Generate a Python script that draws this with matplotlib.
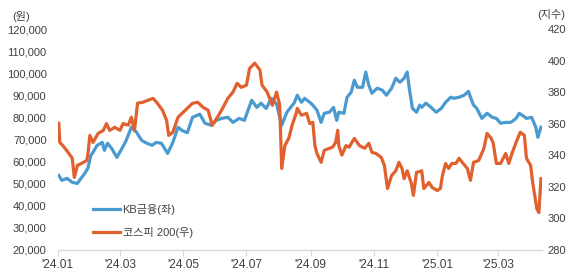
import pandas as pd
import matplotlib
matplotlib.use('Agg')
import matplotlib.pyplot as plt
import matplotlib.dates as mdates
from matplotlib.ticker import FuncFormatter, MultipleLocator

plt.rcParams['font.family'] = ['Liberation Sans', 'Noto Sans CJK KR']

START = pd.Timestamp('2024-01-01')

# KB금융 (원): days since 2024-01-01 and price
kb_days = [1, 4, 9, 14, 19, 21, 26, 29, 32, 34, 38, 43, 45, 48, 52, 57, 62, 66, 71, 76,
           81, 86, 91, 95, 100, 106, 111, 116, 120, 125, 130, 137, 142, 148, 153, 158, 164,
           169, 175, 180, 187, 192, 196, 201, 206, 211, 216, 221, 228, 231, 235, 238, 243,
           246, 250, 254, 257, 262, 266, 269, 271, 276, 279, 283, 286, 289, 294, 297, 300,
           303, 308, 313, 317, 322, 326, 330, 334, 337, 339, 342, 346, 349, 351, 355, 360,
           365, 370, 374, 379, 382, 387, 392, 396, 398, 401, 404, 409, 414, 419, 423, 427,
           432, 437, 442, 445, 448, 452, 457, 461, 463, 466]
kb_price = [53600, 51400, 52300, 50500, 50000, 51400, 54500, 56800, 62700, 64100, 67300,
            68600, 65000, 68200, 65900, 61800, 65900, 69500, 75500, 73200, 69500, 68200,
            67300, 68600, 68200, 63600, 68600, 75500, 74000, 73000, 80000, 81400, 77300,
            76400, 78600, 79500, 80000, 77700, 79500, 78600, 87700, 84500, 86400, 84000,
            88600, 86000, 76400, 82300, 86500, 90000, 86800, 88600, 86800, 85500, 83200,
            77700, 81800, 82300, 84500, 78600, 82300, 81800, 89100, 91400, 96800, 93600,
            93600, 100500, 94500, 90900, 93200, 92300, 90000, 93200, 97700, 95900, 97700,
            100500, 93200, 84100, 82300, 85500, 84500, 86400, 84500, 82300, 84100, 86800,
            89100, 88600, 89100, 90000, 91800, 89100, 85500, 84100, 79500, 81800, 80000,
            79500, 77300, 77700, 77700, 79500, 81800, 80900, 79500, 80000, 75500, 70900,
            75500]

# 코스피 200 (지수)
k200_days = [1, 2, 5, 10, 14, 16, 19, 23, 28, 29, 31, 34, 39, 44, 47, 50, 55, 60, 63, 68,
             71, 74, 77, 82, 87, 92, 96, 101, 105, 107, 111, 116, 118, 125, 130, 135, 140,
             145, 149, 154, 159, 164, 169, 173, 177, 182, 185, 190, 195, 197, 202, 207, 211,
             214, 216, 219, 223, 226, 230, 231, 235, 240, 243, 246, 248, 250, 254, 257, 262,
             265, 268, 270, 271, 274, 278, 281, 286, 291, 296, 300, 303, 307, 312, 315, 318,
             322, 326, 329, 332, 334, 337, 341, 343, 346, 351, 353, 358, 361, 366, 369, 371,
             374, 377, 380, 384, 387, 390, 395, 398, 401, 406, 411, 414, 418, 420, 423, 427,
             432, 435, 438, 442, 446, 450, 452, 456, 458, 462, 464, 466]
k200_index = [360.2, 348, 346, 341.7, 338, 325.8, 333.5, 334.7, 336.6, 340, 352.5, 348,
              353.8, 355.7, 360, 355.7, 357.6, 355.7, 360, 359, 364, 355.7, 373, 373.5,
              374.8, 376, 373, 368.5, 362, 352.5, 354.5, 364, 365.3, 369.7, 372.9, 373.5,
              370.4, 368.5, 358.9, 364, 369.7, 376, 380, 385.6, 383, 384.4, 395, 398.4, 394,
              384.4, 380, 371.6, 380, 372, 331.5, 346, 351, 359, 366.5, 369.7, 365.3, 366.5,
              360, 360.8, 346, 341, 335.4, 343, 344.3, 345, 348, 355.7, 346, 340, 346, 345,
              350.6, 346, 344.3, 347.5, 341.7, 341, 338.5, 333.5, 318.8, 327, 330, 335.4,
              331.5, 325, 330, 322, 314.4, 329, 330, 318.8, 322.6, 319.5, 317.5, 318.8, 327,
              334.7, 331.5, 334.7, 334.7, 338, 335.4, 331.5, 324, 335.4, 336.6, 344.3, 353.8,
              350.6, 347.5, 334.7, 334.7, 341, 334.7, 341, 348, 354.5, 352.5, 338, 333.5,
              322.6, 306, 303.5, 325]

month_ticks = pd.date_range('2024-01-01', '2025-03-01', freq='2MS')

kb_dates = START + pd.to_timedelta(kb_days, unit='D')
k200_dates = START + pd.to_timedelta(k200_days, unit='D')

BLUE = '#4a9ad0'
ORANGE = '#e0612e'
TXT = '#404040'

fig = plt.figure(figsize=(5.79, 2.77), dpi=100)
ax = fig.add_axes([0.0997, 0.099, 0.8364, 0.796])
ax2 = ax.twinx()

l1, = ax.plot(kb_dates, kb_price, color=BLUE, lw=2.3, label='KB금융(좌)')
l2, = ax2.plot(k200_dates, k200_index, color=ORANGE, lw=2.3, label='코스피 200(우)')

ax.set_xlim(START, pd.Timestamp('2025-04-12'))
ax.set_ylim(20000, 120000)
ax2.set_ylim(280, 420)
ax.yaxis.set_major_locator(MultipleLocator(10000))
ax2.yaxis.set_major_locator(MultipleLocator(20))
ax.yaxis.set_major_formatter(FuncFormatter(lambda v, p: f'{int(v):,}'))

ax.set_xticks(month_ticks)
ax.xaxis.set_major_formatter(mdates.DateFormatter("'%y.%m"))

for a in (ax, ax2):
    for s in a.spines.values():
        s.set_visible(False)
ax.spines['bottom'].set_visible(True)
ax.spines['bottom'].set_color('#d9d9d9')
ax.spines['bottom'].set_linewidth(1)

ax.tick_params(axis='x', length=4, color='#d9d9d9', labelsize=8.6, labelcolor=TXT, pad=3)
ax.tick_params(axis='y', length=0, labelsize=8, labelcolor=TXT, pad=8)
ax2.tick_params(axis='y', length=0, labelsize=8, labelcolor=TXT, pad=4)

fig.text(0.021, 0.94, '(원)', fontsize=8, color=TXT, va='center')
fig.text(0.928, 0.947, '(지수)', fontsize=8, color=TXT, va='center')

ax2.legend(handles=[l1, l2], loc='center left', bbox_to_anchor=(0.073, 0.13),
           frameon=False, fontsize=8, handlelength=2.45, handletextpad=0.2,
           labelspacing=1.05, borderpad=0, borderaxespad=0, labelcolor=TXT)

fig.savefig('out.png', dpi=100)
